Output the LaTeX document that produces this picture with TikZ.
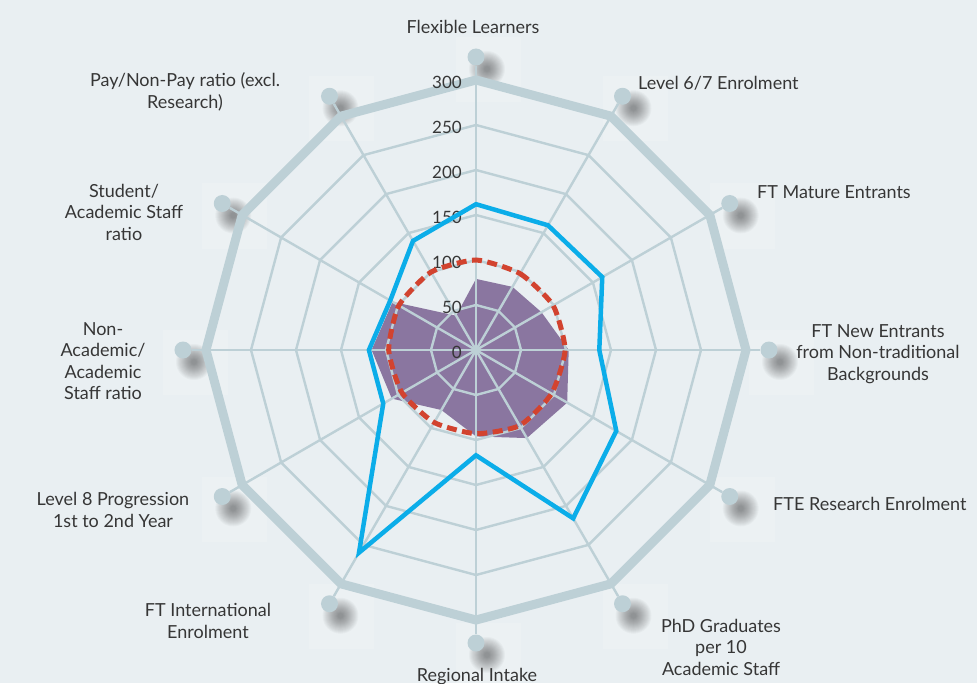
\documentclass[tikz,border=0pt]{standalone}
\usepackage{fontspec}
\setmainfont{Lato}
\usetikzlibrary{calc}
\definecolor{bg}{HTML}{E9EFF2}
\definecolor{gridc}{HTML}{BDD0D6}
\definecolor{blueS}{HTML}{0BADE9}
\definecolor{redS}{HTML}{D2432F}
\definecolor{purp}{HTML}{8A76A0}
\definecolor{txt}{HTML}{363636}
\begin{document}
\begin{tikzpicture}[x=1pt,y=1pt,
  lbl/.style={font=\fontsize{18}{21.5}\selectfont, text=txt, align=center, inner sep=0pt},
  ticklbl/.style={font=\fontsize{17}{20}\selectfont, text=txt, inner sep=0pt, anchor=east},
  gridline/.style={draw=gridc, line width=2.4pt},
  outerring/.style={draw=gridc, line width=9pt, line join=miter},
  dotnode/.style={circle, fill=gridc, minimum size=17pt, inner sep=0pt},
  blueline/.style={draw=blueS, line width=4.5pt, line join=miter},
  redline/.style={draw=redS, line width=5pt, dash pattern=on 10pt off 5.5pt},
  purparea/.style={fill=purp}]
\fill[bg] (-476,-333) rectangle (501,350);
\useasboundingbox (-476,-333) rectangle (501,350);
\coordinate (C) at (0,0);
% dot positions, light squares and shadows
\foreach \i in {0,...,11}{
  \coordinate (p\i) at ({90-30*\i}:293);
  \fill[white, opacity=0.15] ($(p\i)+(-20,20)$) rectangle ($(p\i)+(45,-45)$);
  \foreach \rr in {18,17,...,3}{
    \fill[black, opacity=0.027] ($(p\i)+(11,-12)$) circle (\rr);
  }
}
% purple area
\foreach \v [count=\i from 0] in {79,81,84,103,117,113,96,77,108,116,107,44}{
  \coordinate (q\i) at ({90-30*\i}:{0.9*\v});
}
\fill[purparea] (q0)--(q1)--(q2)--(q3)--(q4)--(q5)--(q6)--(q7)--(q8)--(q9)--(q10)--(q11)--cycle;
% grid
\foreach \i in {0,...,11}{
  \node[dotnode] (d\i) at (p\i) {};
  \draw[gridline] (C) -- (d\i);
}
\foreach \v in {50,100,150,200,250}{
  \draw[gridline] (90:{0.9*\v}) \foreach \k in {1,...,11}{ -- ({90-30*\k}:{0.9*\v}) } -- cycle;
}
\draw[outerring] (90:270) \foreach \k in {1,...,11}{ -- ({90-30*\k}:270) } -- cycle;
% tick labels
\foreach \v in {0,50,...,300}{
  \node[ticklbl] (k\v) at (-14,{0.9*\v-2}) {\v};
}
% red dashed series
\foreach \v [count=\i from 0] in {100,98,99,99,97,97,93,93,95,97,99,100}{
  \coordinate (r\i) at ({90-30*\i}:{0.9*\v});
}
\draw[redline] plot[smooth cycle, tension=0.35] coordinates {(r0) (r1) (r2) (r3) (r4) (r5) (r6) (r7) (r8) (r9) (r10) (r11)};
% blue series
\foreach \v [count=\i from 0] in {162,160,162,137,180,216,117,260,119,119,110,140}{
  \coordinate (b\i) at ({90-30*\i}:{0.9*\v});
}
\draw[blueline] (b0)--(b1)--(b2)--(b3)--(b4)--(b5)--(b6)--(b7)--(b8)--(b9)--(b10)--(b11)--cycle;
% labels
\node[lbl] (t0) at (-3,323) {Flexible Learners};
\node[lbl, anchor=west] (t1) at (162,267) {Level 6/7 Enrolment};
\node[lbl, anchor=west] (t2) at (281,158) {FT Mature Entrants};
\node[lbl] (t3) at (402,-4) {FT New Entrants\\from Non-traditional\\Backgrounds};
\node[lbl, anchor=west] (t4) at (297,-154) {FTE Research Enrolment};
\node[lbl] (t5) at (245,-297) {PhD Graduates\\per 10\\Academic Staff};
\node[lbl, anchor=base] (t6) at (1,-331) {Regional Intake};
\node[lbl] (t7) at (-268,-271) {FT International\\Enrolment};
\node[lbl] (t8) at (-363,-160) {Level 8 Progression\\1st to 2nd Year};
\node[lbl] (t9) at (-373,-11) {Non-\\Academic/\\Academic\\Staff ratio};
\node[lbl] (t10) at (-352,138) {Student/\\Academic Staff\\ratio};
\node[lbl] (t11) at (-291,258) {Pay/Non-Pay ratio (excl.\\Research)};
\end{tikzpicture}
\end{document}
